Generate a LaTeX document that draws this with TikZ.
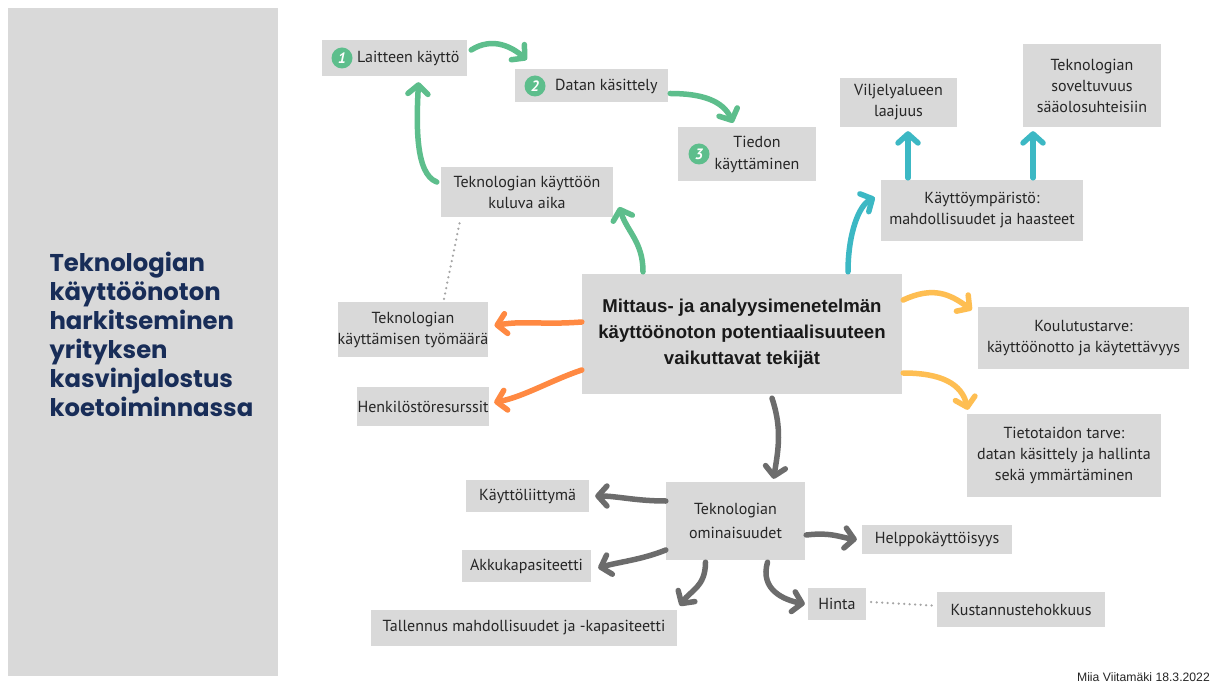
\documentclass[tikz,border=0pt]{standalone}
\usepackage{fontspec}
\setmainfont{PT Sans}
\newfontfamily\titlefont{Poppins}
\newfontfamily\centerfont{Liberation Sans}
\usetikzlibrary{arrows.meta}
\definecolor{panel}{RGB}{217,217,217}
\definecolor{boxgray}{RGB}{217,217,217}
\definecolor{txt}{RGB}{38,38,38}
\definecolor{navy}{RGB}{24,45,88}
\definecolor{agreen}{RGB}{93,190,140}
\definecolor{ateal}{RGB}{60,184,196}
\definecolor{aorange}{RGB}{255,137,66}
\definecolor{ayellow}{RGB}{254,190,82}
\definecolor{agray}{RGB}{108,108,108}
\definecolor{dotgray}{RGB}{165,165,165}
\tikzset{
  box/.style={fill=boxgray, draw=none, inner sep=0pt, align=center, text=txt,
    font=\fontsize{16}{21}\selectfont},
  arr/.style={line width=5.5pt, line cap=round, line join=round,
    -{Straight Barb[length=9pt,width=20pt,line cap=round,line join=round]}},
  numc/.style={circle, fill=agreen, minimum size=21pt, inner sep=0pt, text=white,
    font=\fontsize{15}{15}\selectfont\itshape\bfseries},
  dotline/.style={dotgray, line width=2.5pt, line cap=round, dash pattern=on 0pt off 5.5pt}
}
\begin{document}
\begin{tikzpicture}[x=1pt,y=-1pt]
\useasboundingbox (0,0) rectangle (1222,684);
\fill[white] (0,0) rectangle (1222,684);
\fill[panel] (8,8) rectangle (278,676);
\node[anchor=west, align=left, text=navy, font=\titlefont\bfseries\fontsize{24.3}{29}\selectfont] (title) at (46,334)
  {Teknologian\\käyttöönoton\\harkitseminen\\yrityksen\\kasvinjalostus\\koetoiminnassa};

% boxes
\node[box, minimum width=145pt, minimum height=36pt] (L1) at (394.5,58) {};
\node[numc] (n1) at (342,58) {1};
\node[anchor=west, text=txt, font=\fontsize{16}{21}\selectfont, inner sep=0pt] (t1) at (357,58) {Laitteen käyttö};
\node[box, minimum width=153pt, minimum height=33pt] (L2) at (591.5,85.5) {};
\node[numc] (n2) at (535,86) {2};
\node[anchor=west, text=txt, font=\fontsize{16}{21}\selectfont, inner sep=0pt] (t2) at (555,86) {Datan käsittely};
\node[box, minimum width=138pt, minimum height=54pt] (L3) at (747,154) {};
\node[numc] (n3) at (699,154) {3};
\node[text=txt, font=\fontsize{16}{22}\selectfont, inner sep=0pt, align=center] (t3) at (757,154) {Tiedon\\käyttäminen};

\node[box, minimum width=172pt, minimum height=50pt] (aika) at (527,192) {Teknologian käyttöön\\kuluva aika};
\node[box, minimum width=144pt, minimum height=55pt] (tyo) at (413,329.5) {Teknologian\\käyttämisen työmäärä};
\node[box, minimum width=132pt, minimum height=39pt] (henk) at (423,406.5) {Henkilöstöresurssit};
\node[box, minimum width=320pt, minimum height=120pt, font=\centerfont\bfseries\fontsize{18.6}{26}\selectfont, text=black!90] (c) at (742,334)
  {Mittaus- ja analyysimenetelmän\\käyttöönoton potentiaalisuuteen\\vaikuttavat tekijät};
\node[box, minimum width=117pt, minimum height=49pt] (vilj) at (898.5,102.5) {Viljelyalueen\\laajuus};
\node[box, minimum width=138pt, minimum height=83pt] (sov) at (1092,85.5) {Teknologian\\soveltuvuus\\sääolosuhteisiin};
\node[box, minimum width=202pt, minimum height=61pt] (ymp) at (982,210.5) {Käyttöympäristö:\\mahdollisuudet ja haasteet};
\node[box, minimum width=211pt, minimum height=62pt] (koul) at (1083.5,338) {Koulutustarve:\\käyttöönotto ja käytettävyys};
\node[box, minimum width=194pt, minimum height=83pt] (tieto) at (1064,455.5) {Tietotaidon tarve:\\datan käsittely ja hallinta\\sekä ymmärtäminen};
\node[box, minimum width=139pt, minimum height=78pt, font=\fontsize{16}{24}\selectfont] (om) at (735.5,521) {Teknologian\\ominaisuudet};
\node[box, minimum width=123pt, minimum height=32pt] (kli) at (527.5,496) {Käyttöliittymä};
\node[box, minimum width=129pt, minimum height=32pt] (akku) at (526.5,566) {Akkukapasiteetti};
\node[box, minimum width=306pt, minimum height=36pt] (tall) at (524,628) {Tallennus mahdollisuudet ja -kapasiteetti};
\node[box, minimum width=150pt, minimum height=29pt] (help) at (937,539.5) {Helppokäyttöisyys};
\node[box, minimum width=58pt, minimum height=32pt] (hinta) at (837,604) {Hinta};
\node[box, minimum width=168pt, minimum height=35pt] (kust) at (1021,609.5) {Kustannustehokkuus};

\node[anchor=base east, inner sep=0pt, text=txt, font=\centerfont\fontsize{12.2}{14}\selectfont] (foot) at (1210,681) {Miia Viitamäki 18.3.2022};

% green arrows
\draw[arr, agreen] ([shift={(4,-8)}]L1.east) .. controls +(22,-14) and +(-14,-12) .. ([shift={(12,-9)}]L2.north west);
\draw[arr, agreen] ([shift={(2,8)}]L2.east) .. controls +(32,0) and +(-10,-22) .. ([shift={(-14,-4)}]L3.north);
\draw[arr, agreen] ([shift={(-4,-10)}]aika.west) .. controls +(-22,-8) and +(-2,40) .. ([shift={(24,6)}]L1.south);
\draw[arr, agreen] ([shift={(-99,-2)}]c.north) .. controls +(0,-30) and +(8,25) .. ([shift={(6,15)}]aika.east);
% teal arrows
\draw[arr, ateal] ([shift={(106,-2)}]c.north) .. controls +(0,-38) and +(-16,8) .. ([shift={(-6,-13)}]ymp.west);
\draw[arr, ateal] ([shift={(-74,-2)}]ymp.north) -- ([shift={(9.5,4)}]vilj.south);
\draw[arr, ateal] ([shift={(51,-2)}]ymp.north) -- ([shift={(-59,4)}]sov.south);
% orange arrows
\draw[arr, aorange] ([shift={(0,-12)}]c.west) .. controls +(-40,3) and +(30,-5) .. ([shift={(6,-4)}]tyo.east);
\draw[arr, aorange] ([shift={(0,36)}]c.west) .. controls +(-30,10) and +(30,-6) .. ([shift={(5,-4)}]henk.east);
% yellow arrows
\draw[arr, ayellow] ([shift={(1,-34)}]c.east) .. controls +(30,-14) and +(-22,-16) .. ([shift={(-6,-28)}]koul.west);
\draw[arr, ayellow] ([shift={(1,39)}]c.east) .. controls +(38,0) and +(-6,-26) .. ([shift={(1,-4)}]tieto.north west);
% gray arrows
\draw[arr, agray] ([shift={(30,4)}]c.south) .. controls +(10,30) and +(5,-30) .. ([shift={(38,-3)}]om.north);
\draw[arr, agray] ([shift={(0,-20)}]om.west) .. controls +(-30,0) and +(22,0) .. ([shift={(6,0)}]kli.east);
\draw[arr, agray] ([shift={(0,29)}]om.west) .. controls +(-25,10) and +(20,-6) .. ([shift={(7,2)}]akku.east);
\draw[arr, agray] ([shift={(-30,2)}]om.south) .. controls +(0,25) and +(10,-15) .. ([shift={(156,-4)}]tall.north);
\draw[arr, agray] ([shift={(32,2)}]om.south) .. controls +(-8,28) and +(-20,-4) .. ([shift={(-3,0)}]hinta.west);
\draw[arr, agray] ([shift={(1,14)}]om.east) .. controls +(25,-3) and +(-16,-2) .. ([shift={(-5,0)}]help.west);
% dotted
\draw[dotline] ([shift={(31,-3)}]tyo.north) -- ([shift={(-67,4)}]aika.south);
\draw[dotline] ([shift={(5,-2)}]hinta.east) -- ([shift={(-5,-4)}]kust.west);
\end{tikzpicture}
\end{document}
